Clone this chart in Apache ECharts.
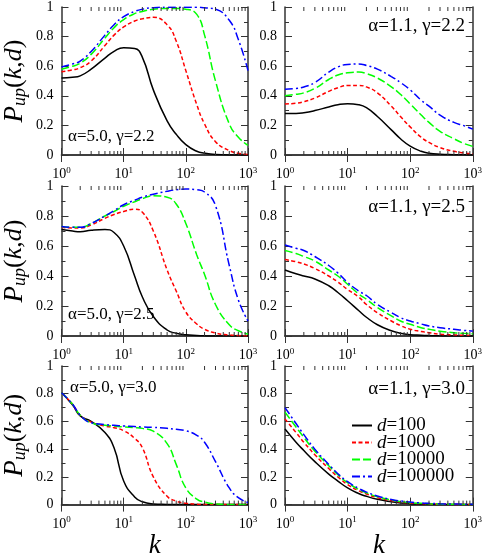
<!DOCTYPE html>
<html>
<head>
<meta charset="utf-8">
<title>P_up(k,d)</title>
<script src="https://cdn.jsdelivr.net/npm/echarts@6/dist/echarts.min.js"></script>
<style>
    html, body { margin: 0; padding: 0; background: #fff; }
    #main { width: 485px; height: 560px; }
</style>
</head>
<body>
<div id="main"></div>
<script>
// degree k (x axis, log)
var kValues = [1, 1.5, 2, 3, 5, 7, 10, 15, 20, 30, 50, 70, 100, 150, 200, 300, 500, 700, 1000];
var seriesNames = ['d=100', 'd=1000', 'd=10000', 'd=100000'];
var panelLabels = ['α=5.0, γ=2.2', 'α=1.1, γ=2.2', 'α=5.0, γ=2.5', 'α=1.1, γ=2.5', 'α=5.0, γ=3.0', 'α=1.1, γ=3.0'];

// alpha 5.0, gamma 2.2
var a50g22_d100 = [0.52, 0.525, 0.535, 0.58, 0.655, 0.70, 0.725, 0.72, 0.66, 0.44, 0.23, 0.14, 0.07, 0.025, 0.012, 0.003, 0, 0, 0];
var a50g22_d1000 = [0.562, 0.575, 0.59, 0.635, 0.74, 0.81, 0.865, 0.905, 0.92, 0.93, 0.88, 0.77, 0.57, 0.34, 0.21, 0.09, 0.03, 0.012, 0.004];
var a50g22_d10000 = [0.58, 0.60, 0.62, 0.68, 0.79, 0.86, 0.915, 0.955, 0.97, 0.985, 0.99, 0.99, 0.985, 0.95, 0.81, 0.50, 0.21, 0.12, 0.065];
var a50g22_d100000 = [0.595, 0.615, 0.635, 0.70, 0.81, 0.88, 0.935, 0.97, 0.985, 0.995, 0.998, 0.998, 0.998, 0.998, 0.995, 0.985, 0.91, 0.78, 0.57];

// alpha 1.1, gamma 2.2
var a11g22_d100 = [0.28, 0.28, 0.285, 0.30, 0.325, 0.34, 0.347, 0.34, 0.32, 0.26, 0.17, 0.11, 0.06, 0.025, 0.012, 0.005, 0.002, 0.001, 0];
var a11g22_d1000 = [0.345, 0.35, 0.36, 0.385, 0.43, 0.455, 0.47, 0.47, 0.46, 0.42, 0.33, 0.26, 0.19, 0.12, 0.085, 0.05, 0.025, 0.015, 0.008];
var a11g22_d10000 = [0.40, 0.41, 0.42, 0.45, 0.51, 0.54, 0.555, 0.56, 0.55, 0.52, 0.46, 0.41, 0.345, 0.27, 0.22, 0.16, 0.11, 0.08, 0.058];
var a11g22_d100000 = [0.445, 0.45, 0.46, 0.49, 0.56, 0.595, 0.612, 0.615, 0.605, 0.58, 0.53, 0.49, 0.44, 0.37, 0.33, 0.27, 0.22, 0.20, 0.175];

// alpha 5.0, gamma 2.5
var a50g25_d100 = [0.71, 0.70, 0.695, 0.705, 0.71, 0.69, 0.60, 0.40, 0.26, 0.13, 0.04, 0.018, 0.008, 0.003, 0.001, 0, 0, 0, 0];
var a50g25_d1000 = [0.725, 0.72, 0.72, 0.74, 0.785, 0.81, 0.83, 0.845, 0.825, 0.70, 0.44, 0.30, 0.16, 0.08, 0.045, 0.02, 0.007, 0.003, 0.001];
var a50g25_d10000 = [0.73, 0.725, 0.725, 0.75, 0.80, 0.83, 0.865, 0.895, 0.915, 0.935, 0.925, 0.88, 0.75, 0.54, 0.41, 0.21, 0.075, 0.035, 0.012];
var a50g25_d100000 = [0.73, 0.725, 0.725, 0.75, 0.80, 0.835, 0.875, 0.905, 0.925, 0.945, 0.965, 0.975, 0.98, 0.975, 0.96, 0.87, 0.47, 0.24, 0.10];

// alpha 1.1, gamma 2.5
var a11g25_d100 = [0.44, 0.415, 0.40, 0.38, 0.335, 0.29, 0.235, 0.17, 0.125, 0.075, 0.035, 0.018, 0.009, 0.005, 0.003, 0.001, 0, 0, 0];
var a11g25_d1000 = [0.51, 0.495, 0.48, 0.45, 0.40, 0.36, 0.31, 0.26, 0.21, 0.155, 0.10, 0.07, 0.045, 0.03, 0.022, 0.012, 0.007, 0.005, 0.004];
var a11g25_d10000 = [0.57, 0.55, 0.53, 0.50, 0.44, 0.40, 0.345, 0.28, 0.245, 0.19, 0.134, 0.10, 0.078, 0.055, 0.045, 0.032, 0.022, 0.018, 0.015];
var a11g25_d100000 = [0.607, 0.585, 0.57, 0.53, 0.47, 0.42, 0.357, 0.30, 0.27, 0.21, 0.156, 0.123, 0.10, 0.08, 0.067, 0.055, 0.045, 0.038, 0.033];

// alpha 5.0, gamma 3.0
var a50g30_d100 = [0.807, 0.72, 0.64, 0.60, 0.52, 0.41, 0.17, 0.055, 0.02, 0.005, 0.001, 0, 0, 0, 0, 0, 0, 0, 0];
var a50g30_d1000 = [0.807, 0.725, 0.645, 0.595, 0.567, 0.555, 0.533, 0.478, 0.41, 0.20, 0.06, 0.025, 0.01, 0.003, 0.001, 0, 0, 0, 0];
var a50g30_d10000 = [0.807, 0.725, 0.645, 0.59, 0.573, 0.567, 0.56, 0.556, 0.55, 0.53, 0.44, 0.29, 0.12, 0.04, 0.018, 0.005, 0.001, 0, 0];
var a50g30_d100000 = [0.807, 0.725, 0.645, 0.59, 0.578, 0.572, 0.567, 0.563, 0.56, 0.557, 0.55, 0.543, 0.533, 0.50, 0.45, 0.31, 0.12, 0.05, 0.015];

// alpha 1.1, gamma 3.0
var a11g30_d100 = [0.545, 0.45, 0.39, 0.31, 0.22, 0.17, 0.12, 0.08, 0.06, 0.038, 0.02, 0.012, 0.007, 0.004, 0.002, 0.001, 0, 0, 0];
var a11g30_d1000 = [0.618, 0.52, 0.45, 0.36, 0.26, 0.20, 0.145, 0.10, 0.077, 0.05, 0.028, 0.018, 0.011, 0.007, 0.005, 0.003, 0.001, 0.001, 0];
var a11g30_d10000 = [0.667, 0.56, 0.485, 0.385, 0.28, 0.215, 0.158, 0.11, 0.085, 0.057, 0.033, 0.022, 0.014, 0.009, 0.006, 0.004, 0.002, 0.001, 0.001];
var a11g30_d100000 = [0.70, 0.585, 0.505, 0.40, 0.29, 0.223, 0.165, 0.117, 0.09, 0.062, 0.037, 0.026, 0.018, 0.012, 0.009, 0.006, 0.004, 0.003, 0.002];

var panelData = [
    [a50g22_d100, a50g22_d1000, a50g22_d10000, a50g22_d100000],
    [a11g22_d100, a11g22_d1000, a11g22_d10000, a11g22_d100000],
    [a50g25_d100, a50g25_d1000, a50g25_d10000, a50g25_d100000],
    [a11g25_d100, a11g25_d1000, a11g25_d10000, a11g25_d100000],
    [a50g30_d100, a50g30_d1000, a50g30_d10000, a50g30_d100000],
    [a11g30_d100, a11g30_d1000, a11g30_d10000, a11g30_d100000]
];

// minor tick positions of the log axis
var minorMantissa = [2, 3, 4, 5, 6, 7, 8, 9];
var decades = [1, 10, 100];

var FONT = 'Liberation Serif';
var AXIS_COLOR = '#333';
var lineColors = ['#000000', '#ff0000', '#00ff00', '#0000ff'];
var lineTypes = ['solid', [4, 2.5], [8, 3], [8, 3, 2, 3]];

var gridPos = [[58, 5], [285, 5], [58, 186], [285, 186], [58, 366], [285, 366]];
var GW = 190, GH = 150;

var minorK = [];
decades.forEach(function (d) {
    minorMantissa.forEach(function (m) { minorK.push([m * d, 0]); });
});

var grids = [], xAxes = [], yAxes = [], series = [], graphics = [];

gridPos.forEach(function (p, i) {
    var isLeft = i % 2 === 0;
    var isBottom = i >= 4;
    grids.push({ left: p[0], top: p[1], width: GW, height: GH });

    // bottom x axis
    xAxes.push({
        gridIndex: i, type: 'log', logBase: 10, min: 1, max: 1000, position: 'bottom',
        axisLine: { show: true, lineStyle: { color: AXIS_COLOR, width: 1.5 } },
        axisTick: { show: true, inside: true, length: 7, lineStyle: { color: AXIS_COLOR, width: 1 } },
        splitLine: { show: false },
        axisLabel: {
            margin: 11, color: '#000', fontFamily: FONT,
            formatter: function (v) { return '{b|10}{s|' + Math.round(Math.log10(v)) + '}'; },
            rich: {
                b: { fontSize: 14, fontFamily: FONT, color: '#000' },
                s: { fontSize: 9, fontFamily: FONT, color: '#000', padding: [0, 0, 8, 0] }
            }
        },
        name: isBottom ? 'k' : '',
        nameLocation: 'middle', nameGap: 25,
        nameTextStyle: { fontFamily: FONT, fontStyle: 'italic', fontSize: 27, color: '#000' }
    });
    // top mirror
    xAxes.push({
        gridIndex: i, type: 'log', logBase: 10, min: 1, max: 1000, position: 'top',
        axisLine: { show: true, lineStyle: { color: AXIS_COLOR, width: 1.5 } },
        axisTick: { show: true, inside: true, length: 7, lineStyle: { color: AXIS_COLOR, width: 1 } },
        axisLabel: { show: false },
        splitLine: { show: false }
    });

    yAxes.push({
        gridIndex: i, type: 'value', min: 0, max: 1, interval: 0.2, position: 'left',
        axisLine: { show: true, lineStyle: { color: AXIS_COLOR, width: 1.5 } },
        axisTick: { show: true, inside: true, length: 7, lineStyle: { color: AXIS_COLOR, width: 1 } },
        minorTick: { show: true, splitNumber: 2, length: 4, lineStyle: { color: AXIS_COLOR, width: 1 } },
        splitLine: { show: false },
        axisLabel: { margin: 8, fontSize: 14, fontFamily: FONT, color: '#000' },
        name: isLeft ? '{p|P}{s|up}{r|(}{i|k}{r|,}{i|d}{r|)}' : '',
        nameLocation: 'middle', nameGap: 32,
        nameTextStyle: {
            color: '#000', fontFamily: FONT, fontWeight: 'normal',
            rich: {
                p: { fontFamily: FONT, fontStyle: 'italic', fontSize: 27, color: '#000' },
                s: { fontFamily: FONT, fontStyle: 'italic', fontSize: 18, color: '#000', padding: [12, 0, 0, 0] },
                r: { fontFamily: FONT, fontSize: 26, color: '#000' },
                i: { fontFamily: FONT, fontStyle: 'italic', fontSize: 26, color: '#000' }
            }
        }
    });
    yAxes.push({
        gridIndex: i, type: 'value', min: 0, max: 1, interval: 0.2, position: 'right',
        axisLine: { show: true, lineStyle: { color: AXIS_COLOR, width: 1.5 } },
        axisTick: { show: true, inside: true, length: 7, lineStyle: { color: AXIS_COLOR, width: 1 } },
        minorTick: { show: true, splitNumber: 2, length: 4, lineStyle: { color: AXIS_COLOR, width: 1 } },
        axisLabel: { show: false },
        splitLine: { show: false }
    });

    panelData[i].forEach(function (vals, j) {
        series.push({
            name: seriesNames[j],
            type: 'line',
            xAxisIndex: 2 * i, yAxisIndex: 2 * i,
            data: kValues.map(function (k, n) { return [k, vals[n]]; }),
            symbol: 'none',
            smooth: 0.5,
            clip: true,
            lineStyle: { color: lineColors[j], width: 1.5, type: lineTypes[j] },
            itemStyle: { color: lineColors[j] },
            z: 3
        });
    });

    // minor ticks for the log axis (bottom + top)
    series.push({
        type: 'custom',
        xAxisIndex: 2 * i, yAxisIndex: 2 * i,
        silent: true,
        data: minorK,
        z: 5,
        renderItem: function (params, api) {
            var k = api.value(0);
            var b = api.coord([k, 0]);
            var t = api.coord([k, 1]);
            var st = { stroke: AXIS_COLOR, lineWidth: 1 };
            return {
                type: 'group',
                children: [
                    { type: 'line', shape: { x1: b[0], y1: b[1], x2: b[0], y2: b[1] - 4 }, style: st },
                    { type: 'line', shape: { x1: t[0], y1: t[1], x2: t[0], y2: t[1] + 4 }, style: st }
                ]
            };
        }
    });
});

// panel annotations
var labelPos = [
    { x: 68, y: 137, align: 'left', size: 17 },
    { x: 465, y: 26, align: 'right', size: 19 },
    { x: 68, y: 315, align: 'left', size: 17 },
    { x: 465, y: 207, align: 'right', size: 19 },
    { x: 70, y: 388, align: 'left', size: 17 },
    { x: 465, y: 389, align: 'right', size: 19 }
];
labelPos.forEach(function (lp, i) {
    graphics.push({
        type: 'text', x: lp.x, y: lp.y, z: 10,
        style: {
            text: panelLabels[i], fill: '#000',
            font: lp.size + 'px "' + FONT + '"',
            align: lp.align, verticalAlign: 'middle'
        }
    });
});

var chart = echarts.init(document.getElementById('main'));
var option = {
    animation: false,
    backgroundColor: '#fff',
    textStyle: { fontFamily: FONT },
    grid: grids,
    xAxis: xAxes,
    yAxis: yAxes,
    legend: {
        orient: 'vertical',
        left: 346, top: 411,
        itemWidth: 20, itemHeight: 12, itemGap: -2,
        itemStyle: { opacity: 0 },
        data: seriesNames,
        formatter: function (name) { return '{i|d}{n|' + name.slice(1) + '}'; },
        textStyle: {
            fontFamily: FONT,
            lineHeight: 16,
            rich: {
                i: { fontFamily: FONT, fontStyle: 'italic', fontSize: 19, color: '#000', lineHeight: 16 },
                n: { fontFamily: FONT, fontSize: 19, color: '#000', lineHeight: 16 }
            }
        }
    },
    graphic: graphics,
    series: series
};
chart.setOption(option);
</script>
</body>
</html>
